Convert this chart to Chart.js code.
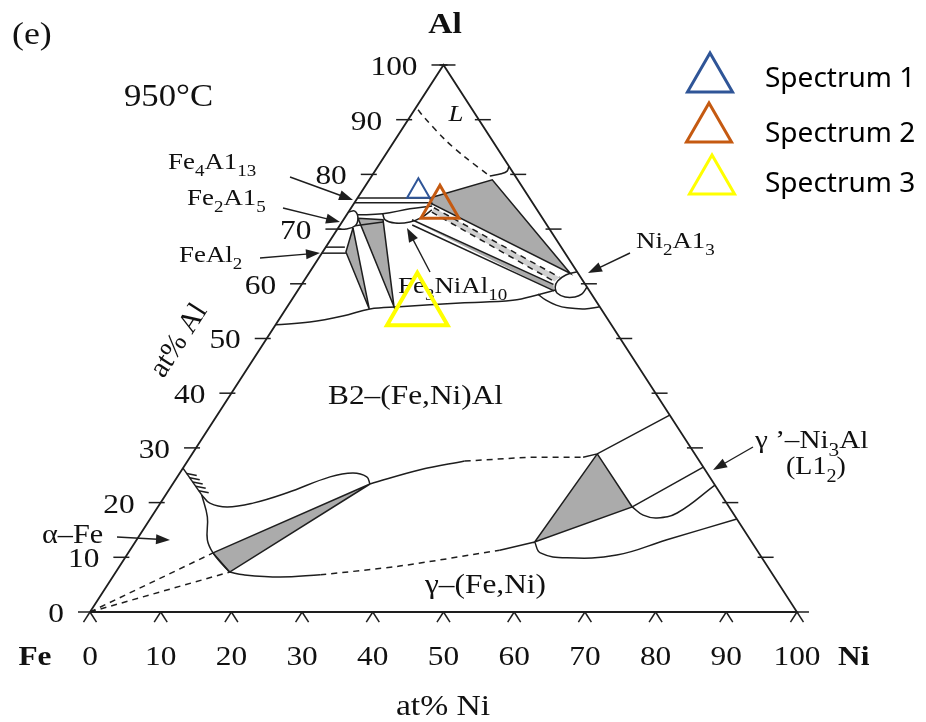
<!DOCTYPE html>
<html>
<head>
<meta charset="utf-8">
<script src="https://cdn.jsdelivr.net/npm/chart.js@4.4.0/dist/chart.umd.min.js"></script>
<style>
  html, body { margin: 0; padding: 0; background: #fff; }
  #wrap { width: 926px; height: 722px; }
</style>
</head>
<body>
<div id="wrap"><canvas id="phaseChart" width="926" height="722"></canvas></div>
<script>
// compositions are [at% Ni, at% Al]
const tickValues = [0, 10, 20, 30, 40, 50, 60, 70, 80, 90, 100];
const tickLabels = ["0", "10", "20", "30", "40", "50", "60", "70", "80", "90", "100"];

const spectrumNames = ["Spectrum 1", "Spectrum 2", "Spectrum 3"];
const spectrumNi = [8.0, 12.5, 18.5];
const spectrumAl = [76.9, 74.0, 55.6];

const outline = [[0, 0], [100, 0], [0, 100], [0, 0]];

// Al-rich corner
const liquidus = [[0.5, 91.8], [2.2, 90.3], [7.1, 86.3], [11.4, 83.2], [16.7, 79.7]];
const liquidArc = [[16.7, 79.7], [18.1, 80.1], [18.7, 80.6], [18.5, 81.5]];
const fe4al13Top = [[0, 75.7], [10.2, 75.7]];
const fe4al13Bottom = [[0, 74.8], [10.4, 74.8], [11.1, 74.6]];
const fe2al5Lens = [[0, 73.1], [0.8, 73.3], [1.9, 72.0], [2.2, 70.6], [1.2, 70.0], [0.1, 70.0]];
const fe3nial10Top = [[1.5, 72.6], [5.0, 72.8], [8.4, 73.7], [11.3, 74.2]];
const fe3nial10Bottom = [[5.0, 72.8], [5.9, 71.7], [7.6, 71.1], [9.6, 71.3], [10.9, 72.2], [11.6, 73.5]];
const fe2al5Tie = [[2.2, 70.6], [5.8, 71.3]];
const feal2Top = [[0, 66.7], [2.7, 66.7]];
const feal2Bottom = [[0, 65.6], [3.4, 65.6]];
const bandDash1 = [[11.7, 73.9], [35.8, 61.2]];
const bandDash2 = [[11.8, 73.1], [35.5, 60.4]];
const bandLineE = [[9.7, 71.7], [35.6, 59.9]];
const bandLineF = [[10.2, 70.75], [36.3, 58.7]];
const ni2al3Lens = [[37.8, 62.2], [36.5, 61.6], [35.9, 60.5], [36.1, 59.4], [36.9, 58.3], [38.4, 57.6], [39.8, 57.6], [40.5, 58.1], [40.6, 59.4]];
const b2Top = [[0, 52.5], [4.6, 53.0], [8.7, 54.1], [11.9, 55.4], [15.9, 55.8], [24.1, 56.5], [31.3, 57.0], [34.6, 58.1], [36.5, 58.9]];
const b2TopOuter = [[34.3, 58.1], [36.0, 57.0], [37.9, 56.1], [39.7, 55.6], [42.3, 55.4], [44.2, 55.8]];

// three-phase triangles (grey)
const triAlRich = [[10.2, 75.7], [17.4, 79.0], [37.0, 61.9], [11.1, 74.6], [10.2, 75.7]];
const triBand = [[11.7, 73.9], [35.8, 61.2], [35.5, 60.4], [11.8, 73.1]];
const triLowStrip = [[11.2, 70.9], [35.6, 59.9], [36.3, 58.7]];
const triFeAl2 = [[2.1, 70.2], [3.3, 65.8], [11.8, 55.4], [2.1, 70.2]];
const triFe2Al5 = [[1.9, 72.0], [5.6, 71.7], [15.1, 55.8], [1.9, 72.0]];

// Fe / Ni rich part
const alphaHatch = [[0, 26.3], [5.1, 21.4]];
const alphaB2Upper = [[5.1, 21.4], [7.0, 19.9], [9.8, 19.2], [13.1, 19.9], [17.0, 21.8], [21.6, 24.7], [24.5, 25.4], [26.8, 24.7], [27.9, 23.4]];
const alphaBoundary = [[5.1, 21.4], [7.9, 17.4], [10.0, 13.2], [12.0, 10.8], [14.5, 8.6], [16.1, 7.3]];
const triAlpha = [[12.0, 10.8], [27.9, 23.4], [16.1, 7.3], [12.0, 10.8]];
const alphaDash1 = [[0, 0], [12.0, 10.8]];
const alphaDash2 = [[0, 0], [16.1, 7.3]];
const gammaLowSolid = [[16.1, 7.3], [18.3, 6.8], [23.7, 6.4], [29.2, 6.8]];
const gammaLowDash = [[29.2, 6.8], [39.6, 8.4], [52.3, 11.3]];
const gammaLowEnd = [[52.3, 11.3], [56.5, 12.8]];
const b2LowSolid = [[27.9, 23.4], [33.7, 26.0], [39.2, 27.6]];
const b2LowDash = [[39.2, 27.6], [48.1, 28.3], [55.6, 28.3]];
const b2LowEnd = [[55.6, 28.3], [57.3, 28.9], [64.0, 36.0]];
const triGamma = [[57.3, 28.9], [67.1, 19.2], [56.5, 12.8], [57.3, 28.9]];
const gammaPrimeTop = [[67.1, 19.2], [73.5, 26.5]];
const gammaPrimeBottom = [[67.1, 19.2], [69.4, 17.7], [71.6, 17.2], [74.0, 18.1], [76.8, 23.2]];
const gammaLowerCurve = [[56.5, 12.8], [58.3, 10.8], [62.5, 9.9], [69.3, 10.4], [75.0, 13.2], [83.0, 17.0]];

const toXY = p => ({ x: p[0] + p[1] / 2, y: p[1] });

const ink = "#1e1e1e";
const grey = "#ababab";
function line(points, opts) {
  return Object.assign({
    data: points.map(toXY), showLine: true, pointRadius: 0,
    borderColor: ink, borderWidth: 1.5, fill: false, tension: 0
  }, opts || {});
}
const dash = { borderDash: [6, 5] };
const curve = { tension: 0.4 };

const markerColors = ["#2f5597", "#c55a11", "#ffff00"];
const markerRadius = [13, 22, 35];
const markerWidth = [2, 3, 4];

const markers = spectrumNames.map((name, i) => ({
  label: name,
  data: [toXY([spectrumNi[i], spectrumAl[i]])],
  showLine: false,
  pointStyle: "triangle",
  pointRadius: markerRadius[i],
  pointBorderColor: markerColors[i],
  pointBorderWidth: markerWidth[i],
  pointBackgroundColor: "rgba(0,0,0,0)",
  legendRadius: 26,
  legendWidth: 3
}));

const datasets = markers.concat([
  line(outline, { borderWidth: 1.8 }),
  line(liquidus, Object.assign({ tension: 0.3 }, dash)),
  line(liquidArc, curve),
  line(fe4al13Top), line(fe4al13Bottom),
  line(fe2al5Lens, curve),
  line(fe3nial10Top, curve), line(fe3nial10Bottom, curve),
  line(fe2al5Tie),
  line(feal2Top), line(feal2Bottom),
  line(bandDash1, dash), line(bandDash2, dash),
  line(bandLineE), line(bandLineF),
  line(ni2al3Lens, curve),
  line(b2Top, curve), line(b2TopOuter, curve),
  line(alphaHatch),
  line(alphaB2Upper, curve), line(alphaBoundary, curve),
  line(alphaDash1, dash), line(alphaDash2, dash),
  line(gammaLowSolid, curve), line(gammaLowDash, Object.assign({ tension: 0.3 }, dash)), line(gammaLowEnd),
  line(b2LowSolid, curve), line(b2LowDash, dash), line(b2LowEnd),
  line(gammaPrimeTop), line(gammaPrimeBottom, curve),
  line(gammaLowerCurve, curve),
  line(triAlRich, { polyFill: grey }),
  line(triBand, { polyFill: "#d0d0d0", showLine: false }),
  line(triLowStrip, { polyFill: grey, showLine: false }),
  line(triFeAl2, { polyFill: grey }),
  line(triFe2Al5, { polyFill: grey }),
  line(triAlpha, { polyFill: grey }),
  line(triGamma, { polyFill: grey })
]);

const serif = '"Liberation Serif", "DejaVu Serif", serif';
function drawRich(ctx, parts, x, y, size, align, style) {
  const st = style || "";
  const main = st + " " + size + "px " + serif;
  const sub = st + " " + Math.round(size * 0.72) + "px " + serif;
  let w = 0;
  parts.forEach(p => { ctx.font = p[1] ? sub : main; w += ctx.measureText(p[0]).width; });
  ctx.save();
  ctx.translate(x, y);
  ctx.scale(1.12, 1);
  let cx = align === "center" ? -w / 2 : align === "right" ? -w : 0;
  parts.forEach(p => {
    ctx.font = p[1] ? sub : main;
    ctx.fillText(p[0], cx, p[1] ? size * 0.3 : 0);
    cx += ctx.measureText(p[0]).width;
  });
  ctx.restore();
}

function arrow(ctx, x1, y1, x2, y2) {
  const a = Math.atan2(y2 - y1, x2 - x1);
  ctx.beginPath(); ctx.moveTo(x1, y1); ctx.lineTo(x2 - 8 * Math.cos(a), y2 - 8 * Math.sin(a)); ctx.stroke();
  ctx.beginPath();
  ctx.moveTo(x2, y2);
  ctx.lineTo(x2 - 14 * Math.cos(a) + 5 * Math.sin(a), y2 - 14 * Math.sin(a) - 5 * Math.cos(a));
  ctx.lineTo(x2 - 14 * Math.cos(a) - 5 * Math.sin(a), y2 - 14 * Math.sin(a) + 5 * Math.cos(a));
  ctx.closePath(); ctx.fill();
}

const labels = [
  { t: [["(e)"]], x: 12, y: 44, s: 32 },
  { t: [["950°C"]], x: 124, y: 106, s: 31 },
  { t: [["Al"]], x: 445, y: 33, s: 30, a: "center", st: "bold" },
  { t: [["Fe"]], x: 35, y: 665, s: 28, a: "center", st: "bold" },
  { t: [["Ni"]], x: 838, y: 665, s: 28, st: "bold" },
  { t: [["at% Ni"]], x: 443, y: 715, s: 30, a: "center" },
  { t: [["L"]], x: 456, y: 121, s: 24, a: "center", st: "italic" },
  { t: [["B2–(Fe,Ni)Al"]], x: 328, y: 404, s: 28 },
  { t: [["γ–(Fe,Ni)"]], x: 425, y: 593, s: 28 },
  { t: [["α–Fe"]], x: 42, y: 543, s: 27 },
  { t: [["γ ’–Ni"], ["3", 1], ["Al"]], x: 755, y: 448, s: 26 },
  { t: [["(L1"], ["2", 1], [")"]], x: 786, y: 474, s: 25 },
  { t: [["Fe"], ["4", 1], ["A1"], ["13", 1]], x: 168, y: 169, s: 24 },
  { t: [["Fe"], ["2", 1], ["A1"], ["5", 1]], x: 187, y: 205, s: 24 },
  { t: [["FeAl"], ["2", 1]], x: 179, y: 262, s: 24 },
  { t: [["Fe"], ["3", 1], ["NiAl"], ["10", 1]], x: 398, y: 293, s: 24 },
  { t: [["Ni"], ["2", 1], ["A1"], ["3", 1]], x: 636, y: 248, s: 24 }
];
const arrows = [
  [290, 177, 353, 200], [283, 208, 340, 222], [260, 258, 320, 253],
  [430, 272, 407, 228], [630, 253, 588, 273], [753, 447, 713, 470], [117, 537, 170, 540]
];

const ternaryDecor = {
  id: "ternaryDecor",
  beforeDraw(chart) {
    const ctx = chart.ctx;
    ctx.save(); ctx.fillStyle = "#fff"; ctx.fillRect(0, 0, chart.width, chart.height); ctx.restore();
  },
  beforeDatasetsDraw(chart) {
    const ctx = chart.ctx, sx = chart.scales.x, sy = chart.scales.y;
    const px = p => [sx.getPixelForValue(p[0] + p[1] / 2), sy.getPixelForValue(p[1])];
    ctx.save();
    // grey fields
    chart.data.datasets.forEach((ds, i) => {
      if (!ds.polyFill) return;
      const pts = chart.getDatasetMeta(i).data;
      ctx.beginPath();
      pts.forEach((pt, k) => k ? ctx.lineTo(pt.x, pt.y) : ctx.moveTo(pt.x, pt.y));
      ctx.closePath();
      ctx.fillStyle = ds.polyFill;
      ctx.fill();
    });

    // ticks
    const fe = px([0, 0]), al = px([0, 100]);
    const L = Math.hypot(al[0] - fe[0], al[1] - fe[1]);
    const ux = (al[0] - fe[0]) / L, uy = (al[1] - fe[1]) / L;
    ctx.strokeStyle = ink; ctx.lineWidth = 1.5;
    const seg = (p, dx1, dy1, dx2, dy2) => { ctx.beginPath(); ctx.moveTo(p[0] + dx1, p[1] + dy1); ctx.lineTo(p[0] + dx2, p[1] + dy2); ctx.stroke(); };
    tickValues.forEach(v => {
      const l = px([0, v]), b = px([v, 0]), r = px([100 - v, v]);
      seg(l, 4, 0, -12, 0);
      seg(b, 0, 0, -ux * 12, -uy * 12);
      seg(b, 0, 0, ux * 12, -uy * 12);
      seg(r, -4, 0, 12, 0);
    });

    // tick labels
    ctx.fillStyle = "#111";
    ctx.textBaseline = "alphabetic";
    tickValues.forEach((v, i) => {
      const l = px([0, v]), b = px([v, 0]);
      drawRich(ctx, [[tickLabels[i]]], l[0] - 26, l[1] + 10, 28, "right");
      drawRich(ctx, [[tickLabels[i]]], b[0], 665, 28, "center");
    });

    // rotated Al axis title
    ctx.save();
    ctx.translate(178, 340);
    ctx.rotate(-Math.atan2(fe[1] - al[1], al[0] - fe[0]));
    ctx.font = "29px " + serif;
    ctx.textAlign = "center";
    ctx.fillText("at% Al", 0, 9);
    ctx.restore();

    // hatching on the alpha / B2 ordering line
    const h0 = px(alphaHatch[0]), h1 = px(alphaHatch[1]);
    [0.2, 0.36, 0.52, 0.68, 0.84].forEach(f => {
      const hx = h0[0] + (h1[0] - h0[0]) * f, hy = h0[1] + (h1[1] - h0[1]) * f;
      seg([hx, hy], 0, 0, 10, 2);
    });

    labels.forEach(o => drawRich(ctx, o.t, o.x, o.y, o.s, o.a || "left", o.st));
    ctx.fillStyle = ink; ctx.lineWidth = 1.4;
    arrows.forEach(a => arrow(ctx, a[0], a[1], a[2], a[3]));
    ctx.restore();
  },
  afterDatasetsDraw(chart) {
    const ctx = chart.ctx;
    ctx.save();
    const rows = [[710, 79, 87], [709, 129, 142], [712, 181, 192]];
    markers.forEach((m, i) => {
      const [x, y, base] = rows[i];
      const r = m.legendRadius;
      ctx.beginPath();
      ctx.moveTo(x, y - r);
      ctx.lineTo(x + 0.866 * r, y + 0.5 * r);
      ctx.lineTo(x - 0.866 * r, y + 0.5 * r);
      ctx.closePath();
      ctx.strokeStyle = m.pointBorderColor;
      ctx.lineWidth = m.legendWidth;
      ctx.stroke();
      ctx.fillStyle = "#000";
      ctx.font = '28px "Noto Sans", "DejaVu Sans", sans-serif';
      ctx.textBaseline = "alphabetic";
      ctx.fillText(m.label, 765, base);
    });
    ctx.restore();
  }
};

new Chart(document.getElementById("phaseChart"), {
  type: "scatter",
  data: { datasets: datasets },
  options: {
    responsive: false,
    animation: false,
    events: [],
    layout: { padding: 0, autoPadding: false },
    scales: {
      x: { type: "linear", min: -12.73, max: 118.25, display: false },
      y: { type: "linear", min: -20.11, max: 111.88, display: false }
    },
    plugins: { legend: { display: false }, tooltip: { enabled: false } }
  },
  plugins: [ternaryDecor]
});
</script>
</body>
</html>
